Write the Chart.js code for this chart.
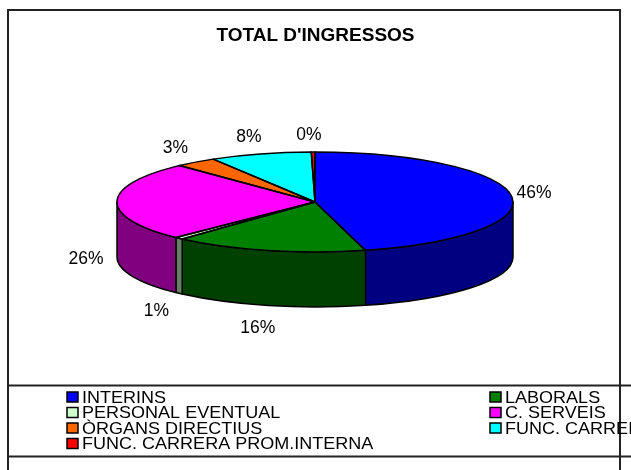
<!DOCTYPE html>
<html>
<head>
<meta charset="utf-8">
<script src="https://cdn.jsdelivr.net/npm/chart.js@4.4.0/dist/chart.umd.min.js"></script>
<style>
  html, body { margin: 0; padding: 0; background: #fff; }
  #wrap { width: 631px; height: 470px; position: relative; }
</style>
</head>
<body>
<div id="wrap"><canvas id="canvas" width="631" height="470"></canvas></div>
<script>
var categories = ['INTERINS', 'LABORALS', 'PERSONAL EVENTUAL', 'C. SERVEIS', 'ÒRGANS DIRECTIUS', 'FUNC. CARRERA', 'FUNC. CARRERA PROM.INTERNA'];
var shares = [45.9, 15.8, 0.7, 25.6, 3.4, 8.3, 0.3];
var topColors = ['#0000ff', '#008000', '#ccffcc', '#ff00ff', '#ff6600', '#00ffff', '#ff0000'];
var sideColors = ['#000080', '#004000', '#668066', '#800080', '#803300', '#008080', '#800000'];
var chartTitle = "TOTAL D'INGRESSOS";

var FONT = '"Liberation Sans", Arial, sans-serif';
// where the flattened pie sits on the page
var pie = { cx: 315, cy: 202, rx: 198, ry: 50, depth: 55 };

function ept(a, dy) {
    return [pie.cx + pie.rx * Math.cos(a), pie.cy + (dy || 0) + pie.ry * Math.sin(a)];
}

var pie3d = {
    id: 'pie3d',
    beforeDatasetsDraw: function (chart) {
        var ctx = chart.ctx;
        var arcs = chart.getDatasetMeta(0).data;
        // front walls, only the part of each slice facing us (0..PI)
        ctx.save();
        ctx.lineWidth = 1.5;
        ctx.lineJoin = 'round';
        ctx.strokeStyle = '#000';
        arcs.forEach(function (arc, i) {
            var a0 = Math.max(arc.startAngle, 0), a1 = Math.min(arc.endAngle, Math.PI);
            if (a1 <= a0) return;
            var q = ept(a1, pie.depth);
            ctx.beginPath();
            ctx.ellipse(pie.cx, pie.cy, pie.rx, pie.ry, 0, a0, a1);
            ctx.lineTo(q[0], q[1]);
            ctx.ellipse(pie.cx, pie.cy + pie.depth, pie.rx, pie.ry, 0, a1, a0, true);
            ctx.closePath();
            ctx.fillStyle = sideColors[i];
            ctx.fill();
            ctx.stroke();
        });
        ctx.restore();
        // squash the library's round pie onto the top ellipse
        var a = arcs[0];
        ctx.save();
        ctx.translate(pie.cx, pie.cy);
        ctx.scale(pie.rx / a.outerRadius, pie.ry / a.outerRadius);
        ctx.translate(-a.x, -a.y);
    },
    afterDatasetsDraw: function (chart) {
        var ctx = chart.ctx;
        ctx.restore();
        var arcs = chart.getDatasetMeta(0).data;
        ctx.save();
        ctx.lineWidth = 1.5;
        ctx.lineJoin = 'round';
        ctx.strokeStyle = '#000';
        arcs.forEach(function (arc) {
            ctx.beginPath();
            ctx.moveTo(pie.cx, pie.cy);
            ctx.ellipse(pie.cx, pie.cy, pie.rx, pie.ry, 0, arc.startAngle, arc.endAngle);
            ctx.closePath();
            ctx.stroke();
        });
        // percent labels
        var total = shares.reduce(function (s, v) { return s + v; }, 0);
        ctx.fillStyle = '#000';
        ctx.font = '17.5px ' + FONT;
        ctx.textAlign = 'center';
        ctx.textBaseline = 'middle';
        arcs.forEach(function (arc, i) {
            var mid = (arc.startAngle + arc.endAngle) / 2;
            var s = Math.sin(mid);
            var lx = pie.cx - 4 + (pie.rx + 27) * Math.cos(mid);
            var ly = pie.cy + (pie.ry + (s > 0 ? 20 : 17)) * s;
            if (s > -0.05) ly += pie.depth + 3; // front labels go under the wall
            ctx.fillText(Math.round(shares[i] / total * 100) + '%', lx, ly);
        });
        ctx.restore();
    },
    afterDraw: function (chart) {
        var ctx = chart.ctx;
        ctx.save();
        // frame and legend box
        ctx.strokeStyle = '#222';
        ctx.lineWidth = 2;
        ctx.beginPath();
        ctx.moveTo(8, 470); ctx.lineTo(8, 10); ctx.lineTo(620, 10); ctx.lineTo(620, 470);
        ctx.moveTo(8, 385.5); ctx.lineTo(631, 385.5);
        ctx.moveTo(8, 456.5); ctx.lineTo(631, 456.5);
        ctx.stroke();
        // legend, two columns, row by row
        ctx.font = '17px ' + FONT;
        ctx.textBaseline = 'middle';
        ctx.lineWidth = 1.5;
        ctx.strokeStyle = '#000';
        var colX = [67, 490];
        chart.data.labels.forEach(function (lab, i) {
            var x = colX[i % 2];
            var y = 397 + Math.floor(i / 2) * 15.5;
            ctx.fillStyle = topColors[i];
            ctx.fillRect(x, y - 5, 11, 10);
            ctx.strokeRect(x, y - 5, 11, 10);
            ctx.fillStyle = '#000';
            ctx.save();
            ctx.translate(x + 15, y + 1);
            ctx.scale(1.06, 1);
            ctx.fillText(lab, 0, 0);
            ctx.restore();
        });
        ctx.restore();
    }
};

var config = {
    type: 'pie',
    data: {
        labels: categories,
        datasets: [{
            data: shares,
            backgroundColor: topColors,
            borderWidth: 0,
            clip: false
        }]
    },
    options: {
        responsive: false,
        animation: false,
        events: [],
        layout: { padding: { left: 120, right: 120, top: 0, bottom: 120 } },
        plugins: {
            legend: { display: false },
            tooltip: { enabled: false },
            title: {
                display: true,
                text: chartTitle,
                color: '#000',
                font: { family: FONT, size: 19, weight: 'bold' },
                padding: { top: 24, bottom: 10 }
            }
        }
    },
    plugins: [pie3d]
};

var ctx = document.getElementById('canvas').getContext('2d');
new Chart(ctx, config);
</script>
</body>
</html>
